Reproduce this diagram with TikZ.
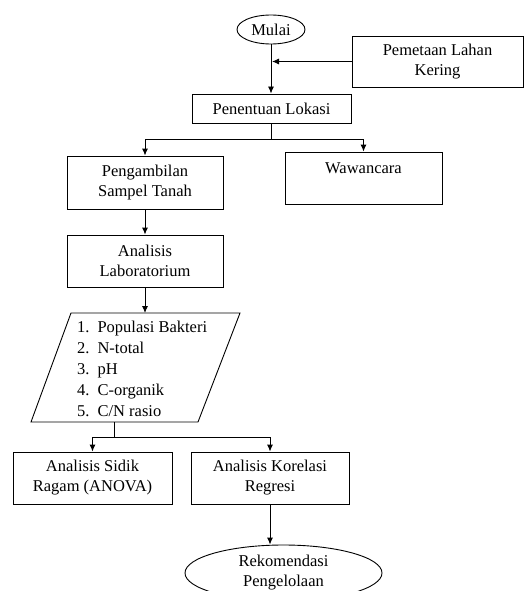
\documentclass[tikz,border=0pt]{standalone}
\usepackage{fontspec}
\setmainfont{Liberation Serif}
\usetikzlibrary{shapes.geometric,arrows.meta}
\begin{document}
\begin{tikzpicture}[x=1pt,y=-1pt,
   every node/.style={font=\fontsize{16.5}{20}\selectfont,align=center},
   box/.style={draw=black,line width=0.9pt,rectangle,inner sep=2pt},
   oval/.style={draw=black,line width=0.9pt,ellipse,inner sep=0pt},
   link/.style={black,line width=0.9pt},
   arr/.style={link,-{Latex[length=7pt,width=6pt]}}]
   \useasboundingbox (0,0) rectangle (524,591);
   \clip (0,0) rectangle (524,591);
   % kotak-kotak
   \node[oval,minimum width=68,minimum height=29] (mulai) at (271,29.5) {Mulai};
   \node[box,minimum width=171,minimum height=51] (pemetaan) at (437.5,61.5) {Pemetaan Lahan\\Kering};
   \node[box,minimum width=159,minimum height=29] (lokasi) at (271.5,108.5) {Penentuan Lokasi};
   \node[box,minimum width=156,minimum height=53] (sampel) at (145,182.5) {Pengambilan\\Sampel Tanah};
   \node[box,minimum width=157,minimum height=52] (wawancara) at (363.5,178) {Wawancara\\\phantom{W}};
   \node[box,minimum width=156,minimum height=52] (lab) at (145,261) {Analisis\\Laboratorium};
   % jajaran genjang
   \draw[link] (71,313) -- (240,313) -- (198,422) -- (31,422) -- cycle;
   \coordinate (paratop) at (145,313);
   \coordinate (parabot) at (114,422);
   \node[anchor=west,align=left,inner sep=0pt] (daftar) at (77,370)
      {\renewcommand{\arraystretch}{1.05}\begin{tabular}{@{}l@{\hspace{8pt}}l@{}}
       1. & Populasi Bakteri\\ 2. & N-total\\ 3. & pH\\ 4. & C-organik\\ 5. & C/N rasio
       \end{tabular}};
   \node[box,minimum width=159,minimum height=52] (sidik) at (92.5,478) {Analisis Sidik\\Ragam (ANOVA)};
   \node[box,minimum width=158,minimum height=52] (korelasi) at (270,478) {Analisis Korelasi\\Regresi};
   \node[oval,minimum width=197,minimum height=56] (rekom) at (283.5,573) {Rekomendasi\\Pengelolaan};
   % panah
   \draw[arr] (mulai.south) -- (mulai.south |- lokasi.north);
   \draw[arr] (pemetaan.west) -- ([xshift=1pt]mulai.south |- pemetaan.west);
   \coordinate (cabang1) at ([yshift=-16pt]lokasi.south);
   \draw[link] (lokasi.south) -- (cabang1);
   \draw[arr] (cabang1) -| (sampel.north);
   \draw[arr] (cabang1) -| (wawancara.north);
   \draw[arr] (sampel.south) -- (lab.north);
   \draw[arr] (lab.south) -- (paratop);
   \coordinate (cabang2) at ([yshift=-15pt]parabot);
   \draw[link] (parabot) -- (cabang2);
   \draw[arr] (cabang2) -| (sidik.north);
   \draw[arr] (cabang2) -| (korelasi.north);
   \draw[arr] (korelasi.south) -- (korelasi.south |- rekom.north);
\end{tikzpicture}
\end{document}
